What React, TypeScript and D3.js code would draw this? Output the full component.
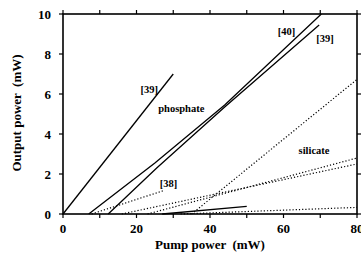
import React from "react";
import { scaleLinear, line, range } from "d3";

// pump power (mW) / output power (mW)
const steep39Pump = [0, 30];
const steep39Out = [0, 7];

const phos40Pump = [7, 25, 44, 70.3];
const phos40Out = [0, 2.55, 5.45, 10];

const phos39Pump = [12.3, 25.5, 44, 69.7];
const phos39Out = [0, 2.3, 5.35, 9.45];

const sil38Pump = [7.8, 27.2];
const sil38Out = [0, 1.16];

const silSteepPump = [35, 80];
const silSteepOut = [0, 6.73];

const silUpperPump = [23, 80];
const silUpperOut = [0, 2.8];

const silLowerPump = [16, 80];
const silLowerOut = [0, 2.5];

const silFlatPump = [32, 80];
const silFlatOut = [0, 0.33];

const shortPump = [27, 50];
const shortOut = [0, 0.38];

const xTicks = range(0, 81, 10);
const xTickLabels = [0, 20, 40, 60, 80];
const yTicks = [0, 2, 4, 6, 8, 10];

const labels = [
  { text: "[39]", x: 23.5, y: 6.25 },
  { text: "phosphate", x: 32.2, y: 5.3 },
  { text: "[40]", x: 60.8, y: 9.15 },
  { text: "[39]", x: 71.3, y: 8.8 },
  { text: "silicate", x: 68.3, y: 3.2 },
  { text: "[38]", x: 28.7, y: 1.55 },
];

const zip = (a: number[], b: number[]) => a.map((v, i) => [v, b[i]] as [number, number]);

const App = () => {
  const width = 361;
  const height = 254;

  const x = scaleLinear().domain([0, 80]).range([63, 357]);
  const y = scaleLinear().domain([0, 10]).range([214, 14]);

  const path = line<[number, number]>()
    .x((d) => x(d[0]))
    .y((d) => y(d[1]));

  const solid = [
    zip(steep39Pump, steep39Out),
    zip(phos40Pump, phos40Out),
    zip(phos39Pump, phos39Out),
    zip(shortPump, shortOut),
  ];
  const dotted = [
    zip(sil38Pump, sil38Out),
    zip(silSteepPump, silSteepOut),
    zip(silUpperPump, silUpperOut),
    zip(silLowerPump, silLowerOut),
    zip(silFlatPump, silFlatOut),
  ];

  const font = "'Liberation Serif', 'DejaVu Serif', serif";
  const tk = 4;

  return (
    <div style={{ position: "fixed", left: 0, top: 0 }}>
      <svg width={width} height={height} style={{ display: "block", background: "#fff" }}>
        {solid.map((d, i) => (
          <path key={"s" + i} d={path(d) || ""} fill="none" stroke="#000" strokeWidth={1.3} />
        ))}
        {dotted.map((d, i) => (
          <path
            key={"d" + i}
            d={path(d) || ""}
            fill="none"
            stroke="#000"
            strokeWidth={1.2}
            strokeDasharray="1.2 2"
          />
        ))}

        {/* frame */}
        <rect
          x={x(0)}
          y={y(10)}
          width={x(80) - x(0)}
          height={y(0) - y(10)}
          fill="none"
          stroke="#000"
          strokeWidth={1.6}
        />

        {/* ticks, all pointing outward */}
        {xTicks.map((t) => (
          <g key={"xt" + t}>
            <line x1={x(t)} x2={x(t)} y1={y(0)} y2={y(0) + tk} stroke="#000" strokeWidth={1.2} />
            <line x1={x(t)} x2={x(t)} y1={y(10)} y2={y(10) - tk} stroke="#000" strokeWidth={1.2} />
          </g>
        ))}
        {yTicks.map((t) => (
          <g key={"yt" + t}>
            <line x1={x(0)} x2={x(0) - tk} y1={y(t)} y2={y(t)} stroke="#000" strokeWidth={1.2} />
            <line x1={x(80)} x2={x(80) + tk} y1={y(t)} y2={y(t)} stroke="#000" strokeWidth={1.2} />
          </g>
        ))}

        {xTickLabels.map((t) => (
          <text
            key={"xl" + t}
            x={x(t)}
            y={y(0) + 19}
            textAnchor="middle"
            fontFamily={font}
            fontWeight="bold"
            fontSize={13}
          >
            {t}
          </text>
        ))}
        {yTicks.map((t) => (
          <text
            key={"yl" + t}
            x={x(0) - 12}
            y={y(t)}
            dy="0.35em"
            textAnchor="end"
            fontFamily={font}
            fontWeight="bold"
            fontSize={13}
          >
            {t}
          </text>
        ))}

        <text
          x={210}
          y={249}
          textAnchor="middle"
          fontFamily={font}
          fontWeight="bold"
          fontSize={13}
          style={{ whiteSpace: "pre" }}
        >
          {"Pump power  (mW)"}
        </text>
        <text
          transform="translate(21,113) rotate(-90)"
          textAnchor="middle"
          fontFamily={font}
          fontWeight="bold"
          fontSize={13}
          style={{ whiteSpace: "pre" }}
        >
          {"Output power  (mW)"}
        </text>

        {labels.map((l, i) => (
          <text
            key={"lb" + i}
            x={x(l.x)}
            y={y(l.y)}
            dy="0.35em"
            textAnchor="middle"
            fontFamily={font}
            fontWeight="bold"
            fontSize={10.5}
          >
            {l.text}
          </text>
        ))}
      </svg>
    </div>
  );
};

export default App;
